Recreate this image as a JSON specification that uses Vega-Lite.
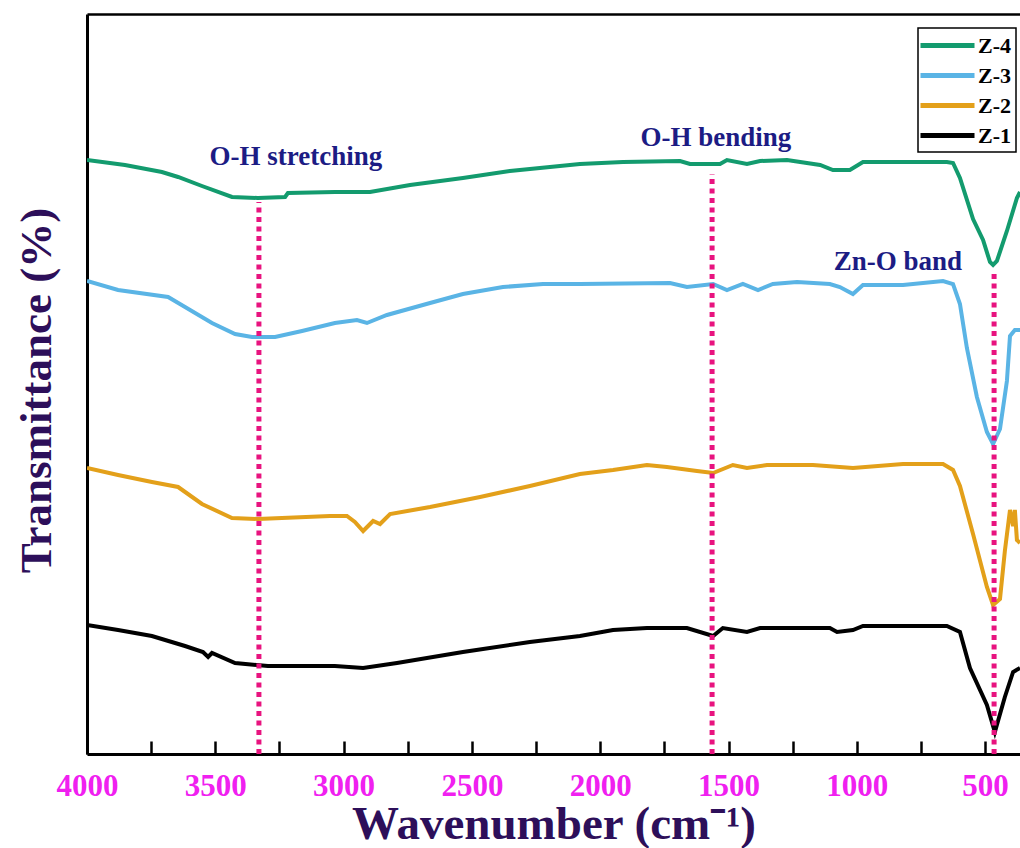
{
  "$schema": "https://vega.github.io/schema/vega-lite/v6.json",
  "autosize": {"type": "none"},
  "padding": {"left": 87, "top": 14, "right": 0, "bottom": 94},
  "width": 933,
  "height": 740,
  "background": "white",
  "config": {"view": {"stroke": null}, "legend": {"strokeWidth": 1.5}},
  "datasets": {
    "spectra": [
      {"s": "Z-4", "wn": 4000, "T": 594}, {"s": "Z-4", "wn": 3852, "T": 589}, {"s": "Z-4", "wn": 3708, "T": 582}, {"s": "Z-4", "wn": 3645, "T": 577}, {"s": "Z-4", "wn": 3552, "T": 568}, {"s": "Z-4", "wn": 3435, "T": 557}, {"s": "Z-4", "wn": 3334, "T": 556}, {"s": "Z-4", "wn": 3228, "T": 557}, {"s": "Z-4", "wn": 3217, "T": 561}, {"s": "Z-4", "wn": 3034, "T": 562}, {"s": "Z-4", "wn": 2897, "T": 562}, {"s": "Z-4", "wn": 2741, "T": 569}, {"s": "Z-4", "wn": 2535, "T": 576}, {"s": "Z-4", "wn": 2352, "T": 583}, {"s": "Z-4", "wn": 2079, "T": 590}, {"s": "Z-4", "wn": 1911, "T": 592}, {"s": "Z-4", "wn": 1689, "T": 593}, {"s": "Z-4", "wn": 1650, "T": 590}, {"s": "Z-4", "wn": 1533, "T": 590}, {"s": "Z-4", "wn": 1506, "T": 594}, {"s": "Z-4", "wn": 1428, "T": 590}, {"s": "Z-4", "wn": 1377, "T": 593}, {"s": "Z-4", "wn": 1272, "T": 594}, {"s": "Z-4", "wn": 1143, "T": 589}, {"s": "Z-4", "wn": 1093, "T": 584}, {"s": "Z-4", "wn": 1027, "T": 584}, {"s": "Z-4", "wn": 976, "T": 592}, {"s": "Z-4", "wn": 820, "T": 592}, {"s": "Z-4", "wn": 649, "T": 592}, {"s": "Z-4", "wn": 625, "T": 591}, {"s": "Z-4", "wn": 598, "T": 576}, {"s": "Z-4", "wn": 547, "T": 535}, {"s": "Z-4", "wn": 508, "T": 514}, {"s": "Z-4", "wn": 481, "T": 492}, {"s": "Z-4", "wn": 469, "T": 489}, {"s": "Z-4", "wn": 454, "T": 493}, {"s": "Z-4", "wn": 415, "T": 523}, {"s": "Z-4", "wn": 376, "T": 556}, {"s": "Z-4", "wn": 364, "T": 562},
      {"s": "Z-3", "wn": 4000, "T": 473}, {"s": "Z-3", "wn": 3879, "T": 464}, {"s": "Z-3", "wn": 3684, "T": 457}, {"s": "Z-3", "wn": 3618, "T": 447}, {"s": "Z-3", "wn": 3513, "T": 431}, {"s": "Z-3", "wn": 3423, "T": 420}, {"s": "Z-3", "wn": 3357, "T": 417}, {"s": "Z-3", "wn": 3267, "T": 417}, {"s": "Z-3", "wn": 3162, "T": 423}, {"s": "Z-3", "wn": 3034, "T": 431}, {"s": "Z-3", "wn": 2948, "T": 434}, {"s": "Z-3", "wn": 2909, "T": 431}, {"s": "Z-3", "wn": 2831, "T": 439}, {"s": "Z-3", "wn": 2663, "T": 451}, {"s": "Z-3", "wn": 2535, "T": 460}, {"s": "Z-3", "wn": 2379, "T": 467}, {"s": "Z-3", "wn": 2223, "T": 470}, {"s": "Z-3", "wn": 2079, "T": 470}, {"s": "Z-3", "wn": 1728, "T": 471}, {"s": "Z-3", "wn": 1662, "T": 467}, {"s": "Z-3", "wn": 1560, "T": 470}, {"s": "Z-3", "wn": 1506, "T": 464}, {"s": "Z-3", "wn": 1444, "T": 470}, {"s": "Z-3", "wn": 1385, "T": 464}, {"s": "Z-3", "wn": 1327, "T": 470}, {"s": "Z-3", "wn": 1233, "T": 472}, {"s": "Z-3", "wn": 1105, "T": 470}, {"s": "Z-3", "wn": 1066, "T": 467}, {"s": "Z-3", "wn": 1015, "T": 460}, {"s": "Z-3", "wn": 976, "T": 469}, {"s": "Z-3", "wn": 820, "T": 469}, {"s": "Z-3", "wn": 664, "T": 473}, {"s": "Z-3", "wn": 625, "T": 470}, {"s": "Z-3", "wn": 598, "T": 450}, {"s": "Z-3", "wn": 571, "T": 406}, {"s": "Z-3", "wn": 532, "T": 357}, {"s": "Z-3", "wn": 493, "T": 322}, {"s": "Z-3", "wn": 469, "T": 310}, {"s": "Z-3", "wn": 442, "T": 325}, {"s": "Z-3", "wn": 415, "T": 373}, {"s": "Z-3", "wn": 403, "T": 418}, {"s": "Z-3", "wn": 384, "T": 424}, {"s": "Z-3", "wn": 364, "T": 424},
      {"s": "Z-2", "wn": 4000, "T": 286}, {"s": "Z-2", "wn": 3879, "T": 279}, {"s": "Z-2", "wn": 3747, "T": 272}, {"s": "Z-2", "wn": 3645, "T": 267}, {"s": "Z-2", "wn": 3552, "T": 250}, {"s": "Z-2", "wn": 3435, "T": 236}, {"s": "Z-2", "wn": 3334, "T": 235}, {"s": "Z-2", "wn": 3053, "T": 238}, {"s": "Z-2", "wn": 2987, "T": 238}, {"s": "Z-2", "wn": 2956, "T": 232}, {"s": "Z-2", "wn": 2924, "T": 223}, {"s": "Z-2", "wn": 2885, "T": 233}, {"s": "Z-2", "wn": 2858, "T": 230}, {"s": "Z-2", "wn": 2819, "T": 240}, {"s": "Z-2", "wn": 2663, "T": 247}, {"s": "Z-2", "wn": 2468, "T": 257}, {"s": "Z-2", "wn": 2274, "T": 268}, {"s": "Z-2", "wn": 2079, "T": 280}, {"s": "Z-2", "wn": 1950, "T": 284}, {"s": "Z-2", "wn": 1818, "T": 289}, {"s": "Z-2", "wn": 1740, "T": 287}, {"s": "Z-2", "wn": 1623, "T": 283}, {"s": "Z-2", "wn": 1560, "T": 281}, {"s": "Z-2", "wn": 1483, "T": 289}, {"s": "Z-2", "wn": 1428, "T": 286}, {"s": "Z-2", "wn": 1350, "T": 289}, {"s": "Z-2", "wn": 1171, "T": 289}, {"s": "Z-2", "wn": 1015, "T": 286}, {"s": "Z-2", "wn": 820, "T": 290}, {"s": "Z-2", "wn": 664, "T": 290}, {"s": "Z-2", "wn": 625, "T": 284}, {"s": "Z-2", "wn": 598, "T": 268}, {"s": "Z-2", "wn": 547, "T": 220}, {"s": "Z-2", "wn": 493, "T": 167}, {"s": "Z-2", "wn": 469, "T": 149}, {"s": "Z-2", "wn": 442, "T": 155}, {"s": "Z-2", "wn": 423, "T": 203}, {"s": "Z-2", "wn": 403, "T": 244}, {"s": "Z-2", "wn": 391, "T": 228}, {"s": "Z-2", "wn": 384, "T": 244}, {"s": "Z-2", "wn": 376, "T": 214}, {"s": "Z-2", "wn": 364, "T": 211},
      {"s": "Z-1", "wn": 4000, "T": 129}, {"s": "Z-1", "wn": 3879, "T": 124}, {"s": "Z-1", "wn": 3747, "T": 118}, {"s": "Z-1", "wn": 3618, "T": 108}, {"s": "Z-1", "wn": 3548, "T": 102}, {"s": "Z-1", "wn": 3528, "T": 97}, {"s": "Z-1", "wn": 3513, "T": 101}, {"s": "Z-1", "wn": 3423, "T": 91}, {"s": "Z-1", "wn": 3295, "T": 88}, {"s": "Z-1", "wn": 3034, "T": 88}, {"s": "Z-1", "wn": 2924, "T": 86}, {"s": "Z-1", "wn": 2792, "T": 91}, {"s": "Z-1", "wn": 2535, "T": 102}, {"s": "Z-1", "wn": 2274, "T": 112}, {"s": "Z-1", "wn": 2079, "T": 118}, {"s": "Z-1", "wn": 1950, "T": 124}, {"s": "Z-1", "wn": 1818, "T": 126}, {"s": "Z-1", "wn": 1662, "T": 126}, {"s": "Z-1", "wn": 1560, "T": 118}, {"s": "Z-1", "wn": 1522, "T": 126}, {"s": "Z-1", "wn": 1428, "T": 122}, {"s": "Z-1", "wn": 1377, "T": 126}, {"s": "Z-1", "wn": 1105, "T": 126}, {"s": "Z-1", "wn": 1077, "T": 122}, {"s": "Z-1", "wn": 1015, "T": 124}, {"s": "Z-1", "wn": 976, "T": 128}, {"s": "Z-1", "wn": 649, "T": 128}, {"s": "Z-1", "wn": 598, "T": 122}, {"s": "Z-1", "wn": 559, "T": 86}, {"s": "Z-1", "wn": 493, "T": 49}, {"s": "Z-1", "wn": 462, "T": 22}, {"s": "Z-1", "wn": 423, "T": 57}, {"s": "Z-1", "wn": 391, "T": 82}, {"s": "Z-1", "wn": 364, "T": 86}
    ],
    "markers": [
      {"wn": 3330, "bottom": 0, "top": 552},
      {"wn": 1564, "bottom": 0, "top": 580},
      {"wn": 465, "bottom": 0, "top": 484}
    ],
    "notes": [
      {"wn": 3186, "T": 597, "text": "O-H stretching"},
      {"wn": 1549, "T": 616, "text": "O-H bending"},
      {"wn": 840, "T": 492, "text": "Zn-O band"}
    ]
  },
  "resolve": {"axis": {"x": "independent"}},
  "layer": [
    {
      "data": {"name": "spectra"},
      "mark": {"type": "line", "strokeWidth": 4, "interpolate": "linear", "clip": true},
      "encoding": {
        "x": {
          "field": "wn", "type": "quantitative",
          "scale": {"domain": [4000, 364], "nice": false, "zero": false},
          "axis": {
            "orient": "bottom",
            "values": [4000, 3750, 3500, 3250, 3000, 2750, 2500, 2250, 2000, 1750, 1500, 1250, 1000, 750, 500],
            "format": "d",
            "labelExpr": "datum.value % 500 === 0 ? datum.label : ''",
            "labelFlush": false,
            "labelOverlap": false,
            "labelFont": "Liberation Serif",
            "labelFontSize": 31,
            "labelFontWeight": "bold",
            "labelColor": "#f020f0",
            "labelBaseline": "alphabetic",
            "labelPadding": 54,
            "ticks": true,
            "tickColor": "black",
            "tickWidth": 2.5,
            "tickSize": -13,
            "encode": {"ticks": {"update": {"y2": {"signal": "datum.value % 500 === 0 ? -13 : -7"}}}},
            "domain": true,
            "domainColor": "black",
            "domainWidth": 3,
            "grid": false,
            "title": "Wavenumber (cm⁻¹)",
            "titleFont": "Liberation Serif",
            "titleFontSize": 47,
            "titleFontWeight": "bold",
            "titleColor": "#2d0f5a",
            "titleBaseline": "alphabetic",
            "titleY": 84
          }
        },
        "y": {
          "field": "T", "type": "quantitative",
          "scale": {"domain": [0, 740], "nice": false, "zero": false},
          "axis": {
            "orient": "left",
            "title": "Transmittance (%)",
            "labels": false,
            "ticks": false,
            "grid": false,
            "domain": true,
            "domainColor": "black",
            "domainWidth": 3,
            "titleFont": "Liberation Serif",
            "titleFontSize": 45,
            "titleFontWeight": "bold",
            "titleColor": "#2d0f5a",
            "titleAngle": 270,
            "titleBaseline": "alphabetic",
            "titleX": -37,
            "titleY": 376
          }
        },
        "color": {
          "field": "s", "type": "nominal",
          "scale": {"domain": ["Z-4", "Z-3", "Z-2", "Z-1"], "range": ["#139b6e", "#5ab4e5", "#e3a01a", "#000000"]},
          "legend": {
            "orient": "none",
            "legendX": 831,
            "legendY": 14,
            "title": null,
            "symbolType": "M-1.5,0H3.9",
            "symbolSize": 400,
            "symbolStrokeWidth": 5,
            "labelFont": "Liberation Serif",
            "labelFontSize": 22,
            "labelFontWeight": "bold",
            "labelColor": "black",
            "labelOffset": 30,
            "rowPadding": 6,
            "padding": 5,
            "strokeColor": "black",
            "fillColor": "white"
          }
        }
      }
    },
    {
      "data": {"name": "markers"},
      "mark": {"type": "rule", "color": "#e8137f", "strokeWidth": 5, "strokeDash": [5, 4.5]},
      "encoding": {
        "x": {"field": "wn", "type": "quantitative", "scale": {"domain": [4000, 364], "nice": false, "zero": false}, "axis": null},
        "y": {
          "field": "bottom", "type": "quantitative",
          "scale": {"domain": [0, 740], "nice": false, "zero": false},
          "axis": {
            "orient": "left",
            "title": "Transmittance (%)",
            "labels": false,
            "ticks": false,
            "grid": false,
            "domain": true,
            "domainColor": "black",
            "domainWidth": 3,
            "titleFont": "Liberation Serif",
            "titleFontSize": 45,
            "titleFontWeight": "bold",
            "titleColor": "#2d0f5a",
            "titleAngle": 270,
            "titleBaseline": "alphabetic",
            "titleX": -37,
            "titleY": 376
          }
        },
        "y2": {"field": "top"}
      }
    },
    {
      "data": {"name": "notes"},
      "mark": {"type": "text", "font": "Liberation Serif", "fontSize": 27, "fontWeight": "bold", "color": "#1c1c84", "align": "center", "baseline": "middle"},
      "encoding": {
        "x": {
          "field": "wn", "type": "quantitative",
          "scale": {"domain": [4000, 364], "nice": false, "zero": false},
          "axis": {"orient": "top", "labels": false, "ticks": false, "grid": false, "title": null, "domain": true, "domainColor": "black", "domainWidth": 2.5}
        },
        "y": {
          "field": "T", "type": "quantitative",
          "scale": {"domain": [0, 740], "nice": false, "zero": false},
          "axis": {
            "orient": "left",
            "title": "Transmittance (%)",
            "labels": false,
            "ticks": false,
            "grid": false,
            "domain": true,
            "domainColor": "black",
            "domainWidth": 3,
            "titleFont": "Liberation Serif",
            "titleFontSize": 45,
            "titleFontWeight": "bold",
            "titleColor": "#2d0f5a",
            "titleAngle": 270,
            "titleBaseline": "alphabetic",
            "titleX": -37,
            "titleY": 376
          }
        },
        "text": {"field": "text"}
      }
    }
  ]
}
